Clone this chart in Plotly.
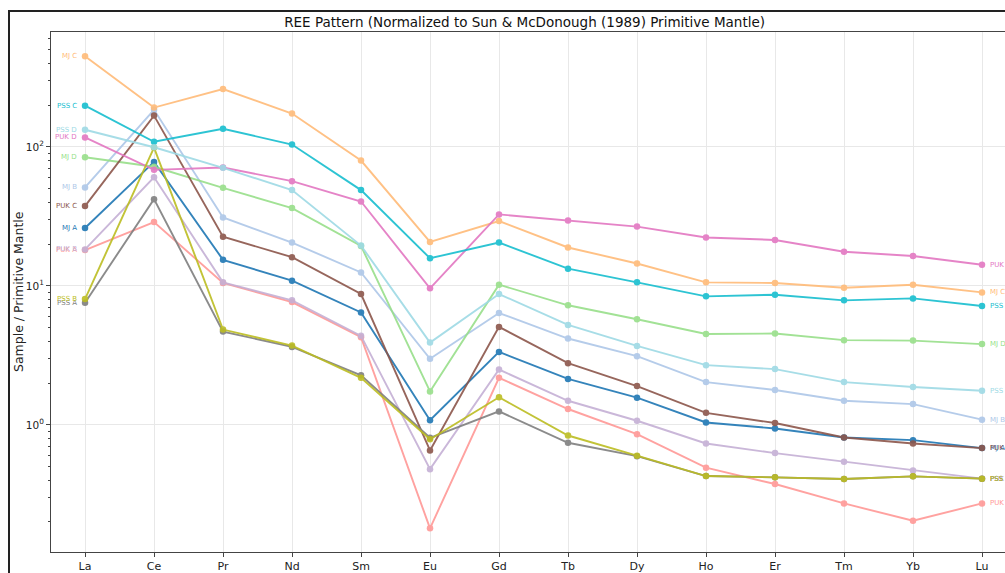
import math
import plotly.graph_objects as go

elements = ["La", "Ce", "Pr", "Nd", "Sm", "Eu", "Gd", "Tb", "Dy", "Ho", "Er", "Tm", "Yb", "Lu"]

mj_a = [26.1, 78.0, 15.4, 10.9, 6.44, 1.08, 3.35, 2.14, 1.57, 1.04, 0.941, 0.811, 0.776, 0.680]
mj_b = [51.1, 185, 31.1, 20.5, 12.5, 2.99, 6.38, 4.18, 3.12, 2.03, 1.78, 1.49, 1.41, 1.09]
mj_c = [449, 192, 261, 174, 79.8, 20.7, 29.3, 18.9, 14.5, 10.6, 10.5, 9.69, 10.2, 8.98]
mj_d = [84.2, 72.0, 50.8, 36.3, 19.4, 1.74, 10.2, 7.25, 5.75, 4.51, 4.54, 4.07, 4.04, 3.81]
puk_a = [18.1, 28.8, 10.5, 7.65, 4.27, 0.180, 2.18, 1.30, 0.856, 0.492, 0.375, 0.272, 0.204, 0.272]
puk_b = [18.3, 60.5, 10.6, 7.87, 4.37, 0.480, 2.50, 1.49, 1.07, 0.734, 0.626, 0.543, 0.470, 0.410]
puk_c = [37.5, 168, 22.6, 16.1, 8.74, 0.654, 5.07, 2.78, 1.90, 1.22, 1.03, 0.811, 0.734, 0.680]
puk_d = [117, 68.4, 71.1, 56.7, 40.5, 9.60, 32.7, 29.6, 26.7, 22.3, 21.4, 17.6, 16.4, 14.2]
pss_a = [7.57, 42.1, 4.69, 3.64, 2.27, 0.807, 1.25, 0.743, 0.595, 0.428, 0.419, 0.408, 0.426, 0.410]
pss_b = [8.04, 98.9, 4.85, 3.72, 2.18, 0.788, 1.58, 0.838, 0.600, 0.428, 0.419, 0.408, 0.426, 0.410]
pss_c = [198, 109, 135, 104, 48.9, 15.8, 20.5, 13.3, 10.6, 8.41, 8.64, 7.87, 8.13, 7.17]
pss_d = [133, 99.4, 70.7, 48.9, 19.5, 3.91, 8.74, 5.24, 3.70, 2.69, 2.52, 2.03, 1.87, 1.76]

sample_names = ["MJ A", "MJ B", "MJ C", "MJ D", "PUK A", "PUK B", "PUK C", "PUK D",
                "PSS A", "PSS B", "PSS C", "PSS D"]
sample_values = [mj_a, mj_b, mj_c, mj_d, puk_a, puk_b, puk_c, puk_d, pss_a, pss_b, pss_c, pss_d]
sample_colors = ["#1f77b4", "#aec7e8", "#ffbb78", "#98df8a", "#ff9896", "#c5b0d5", "#8c564b",
                 "#e377c2", "#7f7f7f", "#bcbd22", "#17becf", "#9edae5"]

y_tick_vals = [1, 10, 100]
y_tick_text = ["10<sup>0</sup>", "10<sup>1</sup>", "10<sup>2</sup>"]
y_minor_vals = [0.2, 0.3, 0.4, 0.5, 0.6, 0.7, 0.8, 0.9, 2, 3, 4, 5, 6, 7, 8, 9,
                20, 30, 40, 50, 60, 70, 80, 90, 200, 300, 400, 500, 600]

FONT = "DejaVu Sans"
W, H = 1005, 573
L, T, B = 51, 32, 19
PW = W - L
PH = H - T - B

fig = go.Figure()
for name, vals, col in zip(sample_names, sample_values, sample_colors):
    fig.add_trace(go.Scatter(
        x=elements, y=vals, name=name, mode="lines+markers",
        line=dict(color=col, width=1.9),
        marker=dict(color=col, size=6.5),
        opacity=0.9, showlegend=False,
    ))

annotations = []
for name, vals, col in zip(sample_names, sample_values, sample_colors):
    annotations.append(dict(x=elements[0], y=math.log10(vals[0]), xref="x", yref="y",
                            text=name, showarrow=False, xanchor="right", yanchor="middle",
                            xshift=-6, font=dict(family=FONT, size=7, color=col)))
    annotations.append(dict(x=elements[-1], y=math.log10(vals[-1]), xref="x", yref="y",
                            text=name, showarrow=False, xanchor="left", yanchor="middle",
                            xshift=6, font=dict(family=FONT, size=7, color=col)))

annotations.append(dict(x=(18 - L) / PW, y=0.5, xref="paper", yref="paper",
                        text="Sample / Primitive Mantle", showarrow=False, textangle=-90,
                        xanchor="center", yanchor="middle",
                        font=dict(family=FONT, size=12.5, color="#222")))

shapes = [
    dict(type="line", xref="paper", yref="y", x0=0, x1=1, y0=0, y1=0,
         line=dict(color="#888", width=1, dash="dot"), layer="below"),
    dict(type="rect", xref="paper", yref="paper",
         x0=(9 - L) / PW, x1=1.3, y0=-0.3, y1=1 + (T - 11) / PH,
         line=dict(color="#222", width=2), layer="above"),
]

fig.update_layout(
    width=W, height=H,
    margin=dict(l=L, r=0, t=T, b=B, pad=0),
    paper_bgcolor="white", plot_bgcolor="white",
    font=dict(family=FONT, color="#222"),
    title=dict(text="REE Pattern (Normalized to Sun &amp; McDonough (1989) Primitive Mantle)",
               x=0.522, xanchor="center", y=1 - 22 / H, yanchor="middle",
               font=dict(family=FONT, size=13.5, color="#111")),
    annotations=annotations,
    shapes=shapes,
    xaxis=dict(type="category", categoryorder="array", categoryarray=elements,
               range=[-0.493, (W - 85) / 69],
               showgrid=True, gridcolor="#e8e8e8", gridwidth=1,
               showline=True, linecolor="#444", linewidth=1, mirror=True,
               ticks="outside", ticklen=4, tickcolor="#444",
               tickfont=dict(family=FONT, size=11, color="#222"), zeroline=False),
    yaxis=dict(type="log", range=[-0.915, 2.827],
               tickmode="array", tickvals=y_tick_vals, ticktext=y_tick_text,
               showgrid=True, gridcolor="#e8e8e8", gridwidth=1,
               showline=True, linecolor="#444", linewidth=1,
               ticks="outside", ticklen=4, tickcolor="#444",
               tickfont=dict(family=FONT, size=10.5, color="#222"),
               minor=dict(tickmode="array", tickvals=y_minor_vals, ticks="outside",
                          ticklen=2, tickcolor="#444", showgrid=False),
               zeroline=False),
)

fig.write_html("out.html", config={"displayModeBar": False},
               post_script="document.body.style.margin='0';document.body.style.overflow='hidden';")
